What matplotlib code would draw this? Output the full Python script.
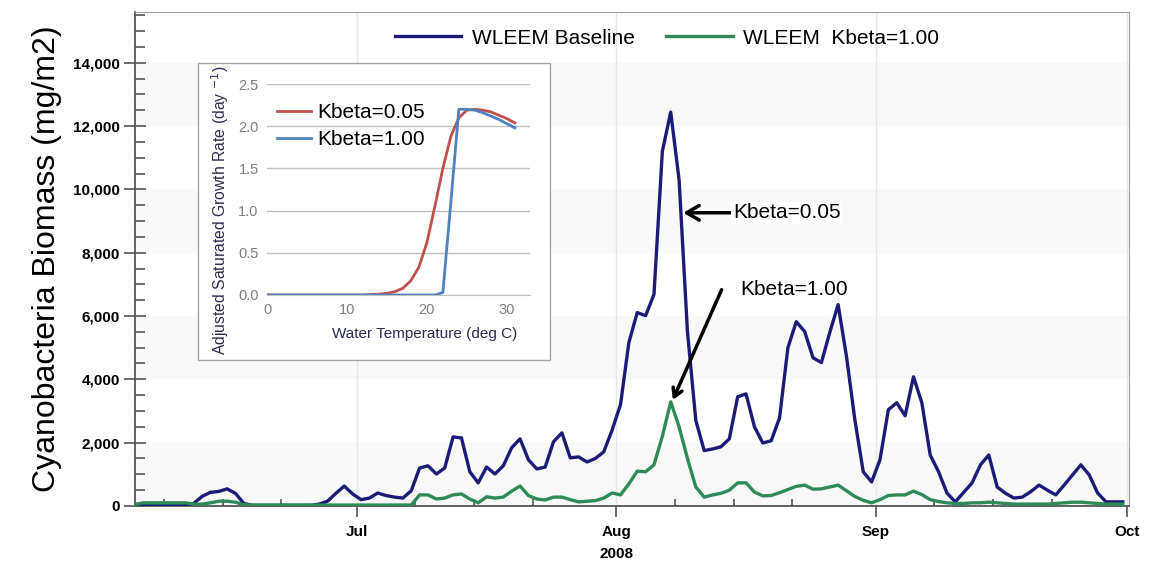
import matplotlib
matplotlib.use("Agg")
import matplotlib.pyplot as plt
import matplotlib.dates as mdates
from matplotlib.patches import Rectangle
from matplotlib.ticker import FuncFormatter, MultipleLocator
import pandas as pd

plt.rcParams['font.family'] = ['Liberation Sans', 'DejaVu Sans']

# daily model output, 2008-06-04 .. 2008-09-30 (mg/m2)
baseline_jun = [30, 30, 30, 30, 30, 30, 30,
                80, 300, 430, 460, 540, 400, 80,
                20, 20, 20, 20, 20, 20, 20, 20,
                60, 150, 400, 630, 380]
baseline_jul = [200, 250, 410, 330, 280, 250, 480, 1200, 1270, 1010, 1200, 2180, 2150, 1080,
                730, 1230, 1010, 1270, 1840, 2120, 1460, 1170, 1230, 2030, 2310, 1520, 1550,
                1390, 1500, 1710, 2400]
baseline_aug = [3200, 5160, 6110, 6010, 6680, 11200, 12440, 10300, 5500, 2700, 1750, 1800,
                1870, 2120, 3450, 3540, 2500, 1990, 2060, 2780, 5000, 5820, 5510, 4680, 4530,
                5480, 6360, 4720, 2720, 1080, 760]
baseline_sep = [1460, 3040, 3260, 2850, 4080, 3260, 1610, 1080, 410, 130, 430, 730, 1300,
                1610, 600, 400, 250, 280, 450, 660, 500, 350, 660, 980, 1300, 980, 410, 130,
                130, 130]

kbeta_jun = [50, 100, 100, 100, 100, 100, 100,
             60, 60, 100, 150, 150, 120, 40,
             30, 30, 30, 30, 30, 30, 30, 30, 30, 30, 30, 30, 30]
kbeta_jul = [30, 30, 30, 30, 30, 30, 30, 350, 350, 220, 250, 350, 380, 220, 100, 290, 250,
             280, 470, 630, 330, 220, 190, 280, 280, 200, 130, 150, 170, 250, 410]
kbeta_aug = [350, 700, 1100, 1080, 1300, 2200, 3290, 2500, 1500, 600, 280, 350, 400, 500,
             730, 730, 440, 320, 330, 420, 520, 620, 660, 530, 540, 600, 660, 480, 300, 180,
             100]
kbeta_sep = [200, 330, 350, 350, 470, 360, 200, 140, 100, 80, 80, 100, 100, 120, 100, 80,
             60, 60, 60, 60, 60, 80, 100, 120, 120, 100, 80, 60, 60, 60]

baseline = baseline_jun + baseline_jul + baseline_aug + baseline_sep
kbeta = kbeta_jun + kbeta_jul + kbeta_aug + kbeta_sep
dates = pd.date_range("2008-06-04", "2008-09-30", freq="D") + pd.Timedelta(hours=12)

# inset: growth rate vs water temperature
temp_c = list(range(32))
rate_k005 = [0, 0, 0, 0, 0, 0, 0, 0, 0, 0, 0, 0, 0, 0.005, 0.01, 0.02, 0.04, 0.08, 0.17,
             0.33, 0.62, 1.05, 1.5, 1.88, 2.1, 2.19, 2.2, 2.19, 2.17, 2.13, 2.09, 2.04]
rate_k100 = [0] * 22 + [0.03, 1.1, 2.2, 2.2, 2.19, 2.16, 2.12, 2.08, 2.03, 1.98]

navy = '#1c1c78'
green = '#2e8b57'

fig = plt.figure(figsize=(11.49, 5.67), dpi=100)
ax = fig.add_axes([0.1175, 0.1076, 0.8651, 0.8712])

# light banding
for lo in (0, 4000, 8000, 12000):
    ax.axhspan(lo, lo + 2000, color='#f9f9f9', zorder=0, lw=0)

ax.plot(dates, baseline, color=navy, lw=2.4, label='WLEEM Baseline', zorder=3)
ax.plot(dates, kbeta, color=green, lw=2.4, label='WLEEM  Kbeta=1.00', zorder=4)

ax.set_xlim(pd.Timestamp("2008-06-04 12:00"), pd.Timestamp("2008-10-01 06:00"))
ax.set_ylim(0, 15600)

ax.xaxis.set_major_locator(mdates.MonthLocator())
ax.xaxis.set_major_formatter(mdates.DateFormatter('%b'))
ax.xaxis.set_minor_locator(mdates.DayLocator(bymonthday=[8, 15, 22]))
ax.yaxis.set_major_locator(MultipleLocator(2000))
ax.yaxis.set_minor_locator(MultipleLocator(500))
ax.yaxis.set_major_formatter(FuncFormatter(lambda v, p: f"{int(v):,}"))

ax.tick_params(axis='x', which='major', direction='out', length=8, width=1.2,
               color='#555555', pad=6, labelsize=11)
ax.tick_params(axis='x', which='minor', direction='in', length=5, width=1.2, color='#555555')
ax.tick_params(axis='y', which='major', direction='inout', length=16, width=1.2,
               color='#555555', pad=3, labelsize=11)
ax.tick_params(axis='y', which='minor', direction='in', length=7, width=1.2, color='#555555')
for lbl in ax.get_xticklabels() + ax.get_yticklabels():
    lbl.set_fontweight('bold')

ax.grid(True, axis='x', which='major', color='#e8e8e8', lw=1, zorder=1)

for s in ('top', 'right'):
    ax.spines[s].set_color('#a0a0a0')
for s in ('left', 'bottom'):
    ax.spines[s].set_color('#555555')
    ax.spines[s].set_linewidth(1.3)

ax.set_ylabel('Cyanobacteria Biomass (mg/m2)', fontsize=23, labelpad=8)
ax.text(pd.Timestamp("2008-08-01"), -0.083, '2008', transform=ax.get_xaxis_transform(),
        ha='center', va='top', fontsize=11, fontweight='bold')

ax.legend(loc='upper center', bbox_to_anchor=(0.535, 1.0), ncol=2, frameon=False,
          fontsize=15, handlelength=3.2, handletextpad=0.5, columnspacing=1.5,
          borderaxespad=0.4)

arrow = dict(arrowstyle='->,head_length=0.6,head_width=0.35', lw=2.5, color='black',
             shrinkA=0, shrinkB=0)
ax.annotate('Kbeta=0.05', xy=(pd.Timestamp("2008-08-09 00:00"), 9260),
            xytext=(pd.Timestamp("2008-08-14 22:00"), 9260),
            fontsize=15, va='center', ha='left', arrowprops=arrow,
            bbox=dict(fc='white', ec='none', pad=1))
ax.annotate('', xy=(pd.Timestamp("2008-08-07 18:00"), 3350),
            xytext=(pd.Timestamp("2008-08-13 14:00"), 6830), arrowprops=arrow)
ax.text(pd.Timestamp("2008-08-15 18:00"), 6830, 'Kbeta=1.00', fontsize=15,
        va='center', ha='left')

# inset panel
fig.patches.append(Rectangle((198 / 1149, 1 - 360 / 567), 352 / 1149, 297 / 567,
                             transform=fig.transFigure, fc='white', ec='#a6a6a6',
                             lw=1, zorder=5))
ins = fig.add_axes([267 / 1149, 1 - 295 / 567, 263 / 1149, 211 / 567], zorder=6)
ins.set_facecolor('white')
ins.plot(temp_c, rate_k005, color='#c0504d', lw=2, label='Kbeta=0.05')
ins.plot(temp_c, rate_k100, color='#4f81bd', lw=2, label='Kbeta=1.00')
ins.set_xlim(0, 32.9)
ins.set_ylim(0, 2.5)
ins.set_xticks([0, 10, 20, 30])
ins.set_yticks([0, 0.5, 1.0, 1.5, 2.0, 2.5])
ins.yaxis.set_major_formatter(FuncFormatter(lambda v, p: f"{v:.1f}"))
ins.grid(True, axis='y', color='#c0c0c0', lw=1)
ins.set_axisbelow(True)
for s in ('top', 'right', 'left'):
    ins.spines[s].set_visible(False)
ins.spines['bottom'].set_color('#c0c0c0')
ins.tick_params(length=0, labelsize=10.5, labelcolor='#7f7f7f', pad=6)
ins.set_xlabel('Water Temperature (deg C)', fontsize=11, color='#2b2b50', labelpad=7,
               x=0.6)
ins.set_ylabel('Adjusted Saturated Growth Rate (day $^{-1}$)', fontsize=11.3,
               color='#2b2b50', labelpad=5, y=0.4)
ins.legend(loc='upper left', bbox_to_anchor=(0.0, 0.96), frameon=False, fontsize=15,
           handlelength=1.6, handletextpad=0.3, labelspacing=0.4, borderaxespad=0.1)

fig.savefig('out.png', dpi=100)
